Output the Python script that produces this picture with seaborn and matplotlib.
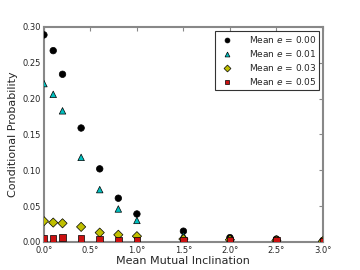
import matplotlib
matplotlib.use("Agg")
import matplotlib.pyplot as plt
import seaborn as sns
import pandas as pd

incl = [0.0, 0.1, 0.2, 0.4, 0.6, 0.8, 1.0, 1.5, 2.0, 2.5, 3.0]
p_e000 = [0.289, 0.267, 0.234, 0.159, 0.102, 0.061, 0.039, 0.015, 0.006, 0.004, 0.002]
p_e001 = [0.221, 0.206, 0.183, 0.118, 0.073, 0.046, 0.030, 0.009, 0.004, 0.003, 0.001]
p_e003 = [0.029, 0.027, 0.026, 0.021, 0.013, 0.010, 0.008, 0.004, 0.003, 0.002, 0.001]
p_e005 = [0.005, 0.005, 0.006, 0.005, 0.004, 0.003, 0.002, 0.002, 0.002, 0.002, 0.001]
labels = [r"Mean $e$ = 0.00", r"Mean $e$ = 0.01", r"Mean $e$ = 0.03", r"Mean $e$ = 0.05"]
xticks = [0.0, 0.5, 1.0, 1.5, 2.0, 2.5, 3.0]
xticklabels = ["0.0°", "0.5°", "1.0°", "1.5°", "2.0°", "2.5°", "3.0°"]

rows = []
for lab, vals in zip(labels, [p_e000, p_e001, p_e003, p_e005]):
    for x, v in zip(incl, vals):
        rows.append({"x": x, "y": v, "series": lab})
df = pd.DataFrame(rows)

sns.set_style("white")
plt.rcParams['font.family'] = ['DejaVu Sans']
fig = plt.figure(figsize=(3.6, 2.7), dpi=100)
ax = fig.add_axes([0.122, 0.104, 0.775, 0.796])

palette = dict(zip(labels, ["black", "#00bfbf", "#bfbf00", "#cc1111"]))
markers = dict(zip(labels, ["o", "^", "D", "s"]))
sns.scatterplot(data=df, x="x", y="y", hue="series", style="series",
                palette=palette, markers=markers, s=22, edgecolor="black",
                linewidth=0.5, ax=ax, zorder=3)

ax.set_xlim(0, 3)
ax.set_ylim(0, 0.30)
ax.set_xticks(xticks)
ax.set_xticklabels(xticklabels)
ax.set_yticks([0.0, 0.05, 0.10, 0.15, 0.20, 0.25, 0.30])
ax.set_yticklabels(["0.00", "0.05", "0.10", "0.15", "0.20", "0.25", "0.30"])
ax.tick_params(direction="in", labelsize=6, length=3, color="#888888",
               top=True, right=True, pad=2)
ax.tick_params(axis="x", pad=3)
for sp in ax.spines.values():
    sp.set_color("#888888")
    sp.set_linewidth(1.5)
ax.set_xlabel("Mean Mutual Inclination", fontsize=8, labelpad=1)
ax.set_ylabel("Conditional Probability", fontsize=8, labelpad=3)

leg = ax.legend(loc="upper right", fontsize=6.5, frameon=True, fancybox=False,
                borderaxespad=0.4, handletextpad=1.4, labelspacing=0.35,
                markerscale=0.75, borderpad=0.35)
leg.get_frame().set_edgecolor("black")
leg.get_frame().set_linewidth(0.8)

fig.savefig("out.png", dpi=100)
